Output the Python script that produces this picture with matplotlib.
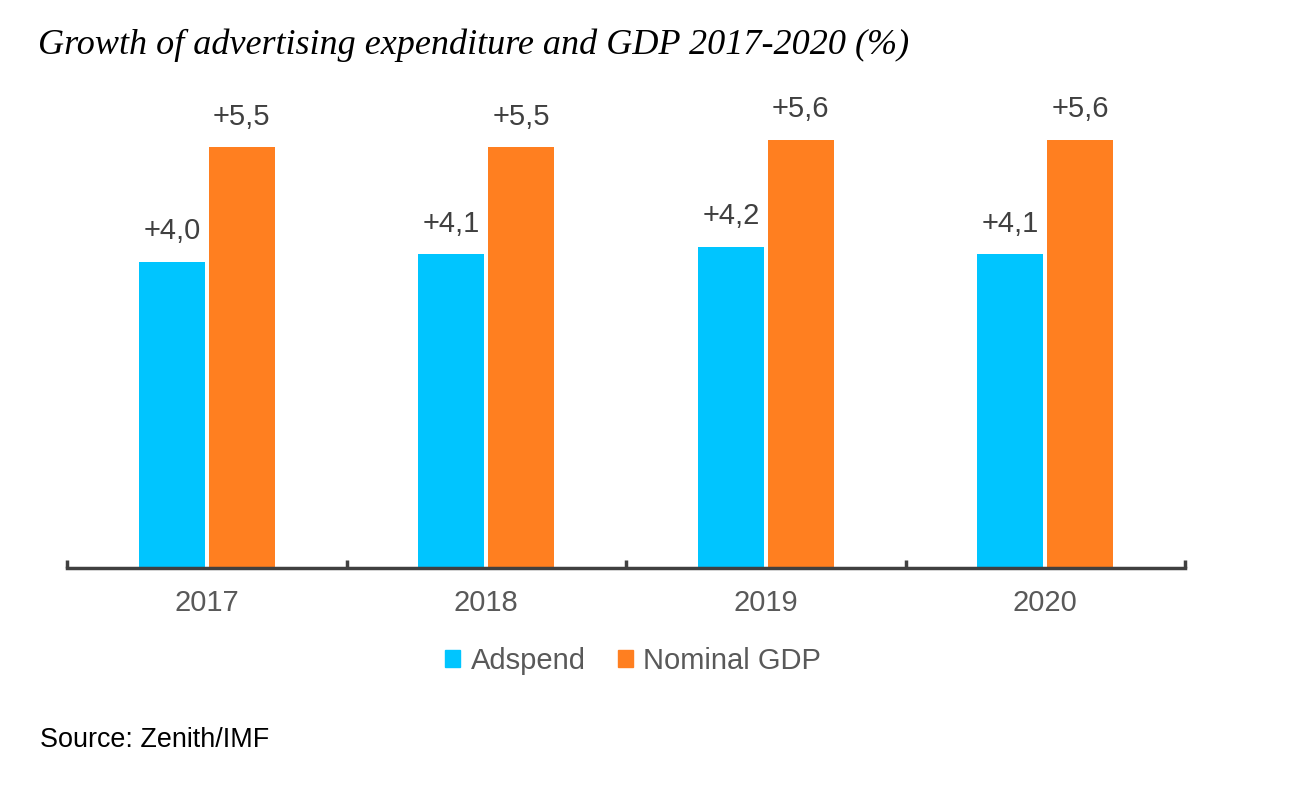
import matplotlib.pyplot as plt
import numpy as np
from matplotlib.patches import Patch

years = ['2017', '2018', '2019', '2020']
adspend = [4.0, 4.1, 4.2, 4.1]
gdp = [5.5, 5.5, 5.6, 5.6]
adspend_labels = ['+4,0', '+4,1', '+4,2', '+4,1']
gdp_labels = ['+5,5', '+5,5', '+5,6', '+5,6']

blue = '#00C5FF'
orange = '#FF7F20'
dark = '#404040'

fig = plt.figure(figsize=(12.97, 7.89), dpi=100)
ax = fig.add_axes([67 / 1297, 1 - 568 / 789, 1118 / 1297, 468 / 789])

x = np.arange(len(years))
w = 0.235
ax.bar(x - 0.125, adspend, width=w, color=blue)
ax.bar(x + 0.125, gdp, width=w, color=orange)

# value labels above bars
for i in range(len(years)):
    ax.annotate(adspend_labels[i], (x[i] - 0.125, adspend[i]), xytext=(0, 12),
                textcoords='offset points', ha='center', va='bottom',
                fontsize=21, color=dark, family='Liberation Sans')
    ax.annotate(gdp_labels[i], (x[i] + 0.125, gdp[i]), xytext=(0, 12),
                textcoords='offset points', ha='center', va='bottom',
                fontsize=21, color=dark, family='Liberation Sans')

ax.set_xlim(-0.5, len(years) - 0.5)
ax.set_ylim(0, 468 / 76.5)

for s in ['top', 'left', 'right']:
    ax.spines[s].set_visible(False)
ax.spines['bottom'].set_color(dark)
ax.spines['bottom'].set_linewidth(2.5)
ax.set_yticks([])

# separators between categories, labels on minor ticks
ax.set_xticks(np.arange(len(years) + 1) - 0.5)
ax.set_xticklabels([])
ax.tick_params(axis='x', which='major', direction='in', length=6, width=2.5, color=dark)
ax.set_xticks(x, minor=True)
ax.set_xticklabels(years, minor=True, fontsize=21, color='#595959', family='Liberation Sans')
ax.tick_params(axis='x', which='minor', length=0, pad=15)

fig.text(38 / 1297, 1 - 45 / 789, 'Growth of advertising expenditure and GDP 2017-2020 (%)',
         fontsize=26, style='italic', family='Liberation Serif', va='center', ha='left')

handles = [Patch(color=blue, label='Adspend'), Patch(color=orange, label='Nominal GDP')]
leg = fig.legend(handles=handles, loc='center', bbox_to_anchor=(633 / 1297, 1 - 661 / 789),
                 ncol=2, frameon=False, fontsize=21, handlelength=0.52, handleheight=0.52,
                 handletextpad=0.35, columnspacing=1.1)
for t in leg.get_texts():
    t.set_color('#595959')
    t.set_family('Liberation Sans')

fig.text(40 / 1297, 1 - 740 / 789, 'Source: Zenith/IMF', fontsize=19.4, color='black',
         family='Liberation Sans', va='center', ha='left')

fig.savefig('out.png', dpi=100)
